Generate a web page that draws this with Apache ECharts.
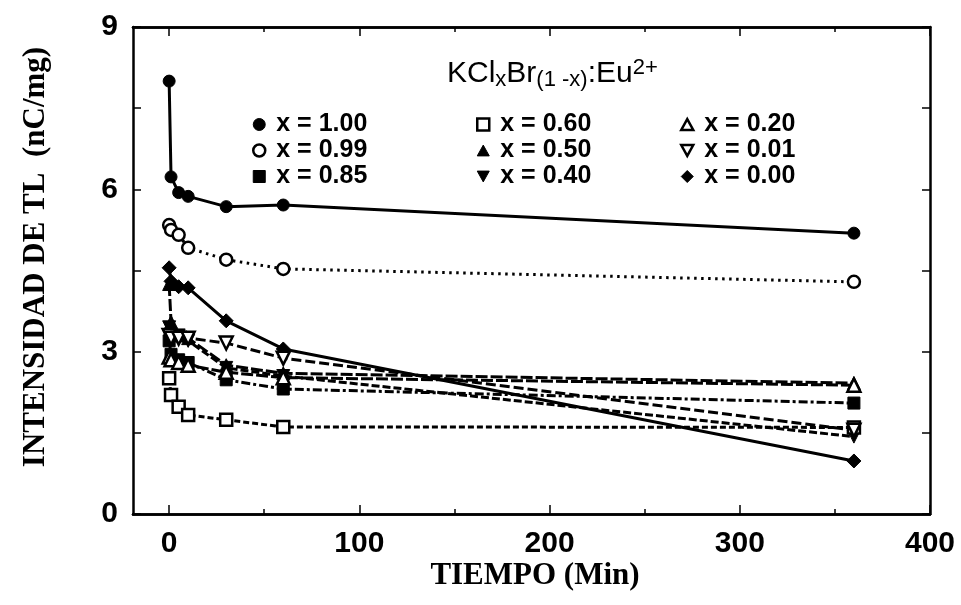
<!DOCTYPE html>
<html>
<head>
<meta charset="utf-8">
<script src="https://cdn.jsdelivr.net/npm/echarts@6/dist/echarts.min.js"></script>
<style>
  html, body { margin: 0; padding: 0; background: #fff; }
  #chart { width: 961px; height: 605px; }
</style>
</head>
<body>
<div id="chart"></div>
<script>
// Storage time (min) at which each TL reading was taken
const times = [0, 1, 5, 10, 30, 60, 360];

// TL intensity (nC/mg) for each composition x of KCl_xBr_(1-x):Eu2+
const x100 = [8.0, 6.23, 5.94, 5.87, 5.68, 5.71, 5.19];
const x099 = [5.34, 5.25, 5.16, 4.92, 4.70, 4.53, 4.29];
const x085 = [3.2, 2.95, 2.85, 2.8, 2.48, 2.31, 2.05];
const x060 = [2.51, 2.2, 1.98, 1.83, 1.74, 1.61, 1.6];
const x050 = [4.25, 3.55, 3.3, 3.25, 2.75, 2.6, 2.42];
const x040 = [3.45, 3.3, 3.3, 3.2, 2.7, 2.55, 1.43];
const x020 = [2.9, 2.85, 2.8, 2.75, 2.62, 2.52, 2.38];
const x001 = [3.3, 3.25, 3.25, 3.25, 3.16, 2.88, 1.55];
const x000 = [4.55, 4.3, 4.2, 4.18, 3.57, 3.05, 0.98];

// Axis ticks
const xLabelTicks = [0, 100, 200, 300, 400];
const xMinorTicks = [50, 150, 250, 350];

const seriesNames = ['x = 1.00', 'x = 0.99', 'x = 0.85', 'x = 0.60', 'x = 0.50',
                     'x = 0.40', 'x = 0.20', 'x = 0.01', 'x = 0.00'];

const INV_TRI = 'path://M0,0L10,0L5,9Z';
const UP_TRI = 'path://M5,0L10,9L0,9Z';

const solidFill = { color: '#000', borderColor: '#000', borderWidth: 1 };
const openFill = { color: '#fff', borderColor: '#000', borderWidth: 2.5 };

function makeSeries(name, values, symbol, size, open, dash, width) {
  return {
    name: name,
    type: 'line',
    data: times.map((t, i) => [t, values[i]]),
    symbol: symbol,
    symbolSize: size,
    showAllSymbol: true,
    itemStyle: open ? openFill : solidFill,
    lineStyle: { color: '#000', width: width || 2.5, type: dash || 'solid', cap: 'butt' },
    emphasis: { disabled: true },
    z: open ? 3 : 2,
    animation: false
  };
}

const series = [
  makeSeries(seriesNames[0], x100, 'circle', 12, false, 'solid', 3),
  makeSeries(seriesNames[1], x099, 'circle', 12, true, [2.5, 4.5], 3),
  makeSeries(seriesNames[2], x085, 'rect', 12, false, [9, 3, 3, 3], 3),
  makeSeries(seriesNames[3], x060, 'rect', 12, true, [6, 3], 3),
  makeSeries(seriesNames[4], x050, UP_TRI, 13, false, [12, 3], 3),
  makeSeries(seriesNames[5], x040, INV_TRI, 13, false, [8, 3], 3),
  makeSeries(seriesNames[6], x020, UP_TRI, 13, true, [12, 3], 3),
  makeSeries(seriesNames[7], x001, INV_TRI, 13, true, [10, 4], 3),
  makeSeries(seriesNames[8], x000, 'diamond', 14, false, 'solid', 3)
];

const legendIcons = ['circle', 'circle', 'rect', 'rect', UP_TRI, INV_TRI, UP_TRI, INV_TRI, 'diamond'];
const legendOpen = [false, true, false, true, false, false, true, true, false];

function legendColumn(idx, left) {
  return {
    orient: 'vertical',
    left: left,
    top: 112,
    padding: 0,
    itemGap: 1,
    itemWidth: 12,
    itemHeight: 12,
    selectedMode: false,
    textStyle: {
      fontFamily: 'Liberation Sans, Arial, sans-serif',
      fontWeight: 'bold',
      fontSize: 25,
      lineHeight: 24,
      color: '#000',
      padding: [0, 0, 0, 6]
    },
    data: idx.map(i => ({
      name: seriesNames[i],
      icon: legendIcons[i],
      itemStyle: legendOpen[i] ? openFill : solidFill
    }))
  };
}

const tickFont = {
  fontFamily: 'Liberation Sans, Arial, sans-serif',
  fontWeight: 'bold',
  fontSize: 30,
  color: '#000'
};

const axisLine = { show: true, onZero: false, lineStyle: { color: '#000', width: 2.5 } };

function xAxisDef(position, values, len, withLabel) {
  return {
    type: 'value',
    position: position,
    min: -19,
    max: 400,
    axisLine: axisLine,
    splitLine: { show: false },
    axisTick: { show: true, inside: true, length: len, customValues: values,
                lineStyle: { color: '#000', width: 1.5 } },
    axisLabel: withLabel
      ? Object.assign({ show: true, margin: 15, customValues: xLabelTicks }, tickFont)
      : { show: false }
  };
}

function yAxisDef(position, withLabel) {
  return {
    type: 'value',
    position: position,
    min: 0,
    max: 9,
    interval: 3,
    axisLine: axisLine,
    splitLine: { show: false },
    axisTick: { show: true, inside: true, length: 8, lineStyle: { color: '#000', width: 1.5 } },
    minorTick: { show: true, splitNumber: 2, length: 8, lineStyle: { color: '#000', width: 1.5 } },
    axisLabel: withLabel
      ? Object.assign({ show: true, margin: 15 }, tickFont)
      : { show: false }
  };
}

const chart = echarts.init(document.getElementById('chart'), null, { renderer: 'canvas' });

chart.setOption({
  backgroundColor: '#fff',
  animation: false,
  grid: { left: 133, right: 31, top: 27, bottom: 91, containLabel: false },
  title: {
    text: 'KCl{sub|x}Br{sub|(1 -x)}:Eu{sup|2+}',
    left: 447,
    top: 57,
    padding: 0,
    textStyle: {
      fontFamily: 'Liberation Sans, Arial, sans-serif',
      fontWeight: 'normal',
      fontSize: 30,
      color: '#000',
      rich: {
        sub: { fontFamily: 'Liberation Sans, Arial, sans-serif', fontSize: 22, verticalAlign: 'bottom', padding: [12, 0, 0, 0], color: '#000' },
        sup: { fontFamily: 'Liberation Sans, Arial, sans-serif', fontSize: 22, verticalAlign: 'top', padding: [0, 0, 10, 0], color: '#000' }
      }
    }
  },
  legend: [
    legendColumn([0, 1, 2], 252),
    legendColumn([3, 4, 5], 476),
    legendColumn([6, 7, 8], 680)
  ],
  xAxis: [
    xAxisDef('bottom', xLabelTicks, 9, true),
    xAxisDef('bottom', xMinorTicks, 5, false),
    xAxisDef('top', xLabelTicks, 9, false),
    xAxisDef('top', xMinorTicks, 5, false)
  ],
  yAxis: [
    yAxisDef('left', true),
    yAxisDef('right', false)
  ],
  graphic: [
    {
      type: 'text',
      x: 535,
      y: 576,
      style: {
        text: 'TIEMPO (Min)',
        x: 0,
        y: 0,
        align: 'center',
        verticalAlign: 'middle',
        font: 'bold 31px "Liberation Serif", "Times New Roman", serif',
        fill: '#000'
      }
    },
    {
      type: 'text',
      x: 36,
      y: 257,
      rotation: Math.PI / 2,
      style: {
        text: 'INTENSIDAD DE TL  (nC/mg)',
        x: 0,
        y: 0,
        align: 'center',
        verticalAlign: 'middle',
        font: 'bold 31px "Liberation Serif", "Times New Roman", serif',
        fill: '#000'
      }
    }
  ],
  series: series
});
</script>
</body>
</html>
